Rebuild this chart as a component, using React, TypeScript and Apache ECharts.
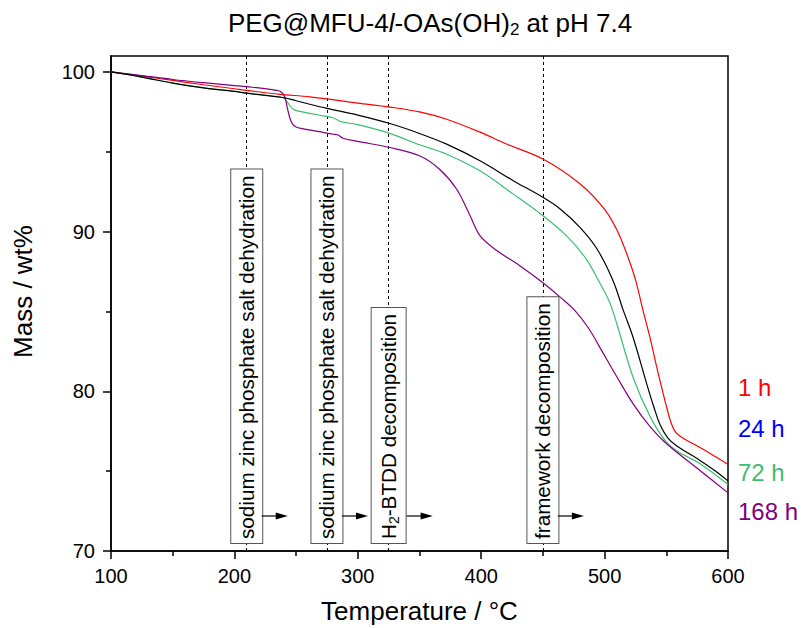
import React, { useEffect, useRef } from "react";
import * as echarts from "echarts";

// ---------- data ----------
const temp1h = [100, 125, 150, 175, 200, 210, 237, 261, 300, 326, 350, 372, 400, 420, 450, 480, 500, 510, 518, 525, 531, 537, 542, 547, 551, 554, 558, 565, 577, 590, 600];
const mass1h = [100, 99.74, 99.47, 99.2, 98.95, 98.85, 98.6, 98.44, 98.05, 97.8, 97.5, 97.04, 96.2, 95.5, 94.55, 93.0, 91.4, 90.1, 88.6, 87.0, 85.1, 83.3, 81.6, 80.0, 78.8, 78.0, 77.4, 77.0, 76.5, 75.9, 75.42];

const temp24h = [100, 125, 150, 175, 200, 210, 239, 250, 261, 275, 300, 326, 350, 372, 399, 426, 450, 464, 480, 494, 507, 515, 523, 534, 540, 545, 551, 558, 577, 590, 600];
const mass24h = [100, 99.68, 99.3, 99.0, 98.78, 98.67, 98.4, 98.2, 97.98, 97.72, 97.3, 96.77, 96.15, 95.48, 94.44, 93.19, 92.15, 91.42, 90.27, 88.9, 86.9, 85.1, 83.4, 80.5, 79.0, 77.9, 77.1, 76.6, 75.69, 75.0, 74.39];

const temp72h = [100, 125, 150, 175, 200, 210, 239, 243, 248, 255, 272, 280, 286, 300, 326, 350, 372, 399, 426, 450, 469, 485, 496, 504, 510, 523, 537, 550, 560, 577, 600];
const mass72h = [100, 99.68, 99.3, 99.0, 98.78, 98.67, 98.4, 98.1, 97.65, 97.5, 97.25, 97.13, 96.9, 96.7, 96.15, 95.44, 94.85, 93.81, 92.35, 91.0, 89.75, 88.3, 86.8, 85.6, 84.2, 80.9, 78.4, 76.83, 76.2, 75.48, 74.17];

const temp168h = [100, 125, 150, 175, 200, 210, 234, 238, 241, 243, 245, 247, 250, 255, 272, 280, 284, 288, 300, 326, 350, 366, 380, 391, 399, 412, 431, 450, 464, 476, 487, 496, 510, 523, 537, 550, 577, 600];
const mass168h = [100, 99.77, 99.53, 99.33, 99.15, 99.08, 98.85, 98.75, 98.4, 97.7, 97.1, 96.75, 96.55, 96.45, 96.22, 96.1, 96.05, 95.85, 95.65, 95.27, 94.75, 93.92, 92.67, 91.0, 89.75, 88.85, 87.88, 86.8, 85.9, 85.05, 83.95, 82.77, 80.9, 79.23, 77.77, 76.73, 75.06, 73.64];

const seriesNames = ["1 h", "24 h", "72 h", "168 h"];
const lineColors = ["#FF0000", "#000000", "#3DBD6F", "#800080"];
const labelColors = ["#FF0000", "#0000FF", "#3DBD6F", "#800080"];
const labelMass = [80.25, 77.7, 74.9, 72.45];

const xTicks = [100, 200, 300, 400, 500, 600];
const yTicks = [70, 80, 90, 100];
const yMinorTicks = [75, 85, 95];

const eventTemps = [210, 275, 325, 450];
const eventLabels = [
  "sodium zinc phosphate salt dehydration",
  "sodium zinc phosphate salt dehydration",
  "{a|H}{b|2}{a|-BTDD decomposition}",
  "framework decomposition",
];

const FONT = '"Liberation Sans", Arial, sans-serif';

export default function App() {
  const ref = useRef<HTMLDivElement>(null);
  useEffect(() => {
    const chart = echarts.init(ref.current!, null, { renderer: "svg" });
    const temps = [temp1h, temp24h, temp72h, temp168h];
    const masses = [mass1h, mass24h, mass72h, mass168h];

    const series: any[] = seriesNames.map((name, i) => ({
      name,
      type: "line",
      data: temps[i].map((t, j) => [t, masses[i][j]]),
      showSymbol: false,
      smooth: 0.35,
      lineStyle: { color: lineColors[i], width: 1.2 },
      itemStyle: { color: lineColors[i] },
      z: 3 + (i === 1 ? 2 : 0),
    }));
    series[0].markLine = {
      silent: true,
      symbol: ["none", "none"],
      label: { show: false },
      lineStyle: { type: [3, 3], color: "#000", width: 1 },
      data: eventTemps.map((t) => ({ xAxis: t })),
      z: 1,
    };

    const axisLineStyle = { color: "#000", width: 1.5 };
    chart.setOption({
      animation: false,
      textStyle: { fontFamily: FONT },
      title: {
        text: "{n|PEG@MFU-4}{i|l}{n|-OAs(OH)}{s|2}{n| at pH 7.4}",
        left: 425,
        top: 3,
        textAlign: "center",
        textStyle: {
          fontSize: 26,
          fontWeight: "normal",
          color: "#000",
          fontFamily: FONT,
          rich: {
            n: { fontSize: 26, fontFamily: FONT, color: "#000", lineHeight: 30 },
            i: { fontSize: 26, fontFamily: FONT, fontStyle: "italic", color: "#000", lineHeight: 30 },
            s: { fontSize: 17, fontFamily: FONT, color: "#000", lineHeight: 15, verticalAlign: "bottom" },
          },
        },
      },
      grid: {
        left: 111,
        right: 75,
        top: 56,
        bottom: 77,
        outerBoundsMode: "none",
        containLabel: false,
        show: true,
        borderColor: "#000",
        borderWidth: 1.5,
        backgroundColor: "transparent",
      },
      xAxis: {
        type: "value",
        min: 100,
        max: 600,
        interval: 100,
        name: "Temperature / °C",
        nameLocation: "middle",
        nameGap: 47,
        nameTextStyle: { fontSize: 26, color: "#000", fontFamily: FONT },
        axisLine: { lineStyle: axisLineStyle },
        axisTick: { inside: false, length: 8, lineStyle: axisLineStyle },
        minorTick: { show: true, splitNumber: 2, length: 5, lineStyle: axisLineStyle },
        axisLabel: { fontSize: 20, color: "#000", margin: 15, fontFamily: FONT, customValues: xTicks },
        splitLine: { show: false },
      },
      yAxis: [
        {
          type: "value",
          min: 70,
          max: 101,
          name: "Mass / wt%",
          nameLocation: "middle",
          nameGap: 75,
          nameTextStyle: { fontSize: 26, color: "#000", fontFamily: FONT, padding: [0, 0, 0, 24] },
          axisLine: { lineStyle: axisLineStyle },
          axisTick: { inside: false, length: 8, lineStyle: axisLineStyle, customValues: yTicks },
          axisLabel: { fontSize: 20, color: "#000", margin: 16, fontFamily: FONT, customValues: yTicks },
          splitLine: { show: false },
        },
        {
          type: "value",
          min: 70,
          max: 101,
          position: "left",
          axisLine: { show: false },
          axisTick: { show: true, inside: false, length: 5, lineStyle: axisLineStyle, customValues: yMinorTicks },
          axisLabel: { show: false },
          splitLine: { show: false },
        },
      ],
      series,
    });

    const px = (t: number, m: number) => chart.convertToPixel({ xAxisIndex: 0, yAxisIndex: 0 }, [t, m]) as number[];
    const graphics: any[] = [];
    const y70 = px(100, 70)[1];
    eventTemps.forEach((t, i) => {
      const x = px(t, 70)[0];
      const isRich = eventLabels[i].startsWith("{");
      const half = isRich ? 18 : 15;
      graphics.push({
        type: "text",
        x,
        y: y70 - 8,
        rotation: Math.PI / 2,
        z: 100,
        style: {
          text: eventLabels[i],
          fontSize: 20.7,
          fontFamily: FONT,
          fill: "#000",
          align: "left",
          verticalAlign: "middle",
          backgroundColor: "#fff",
          borderColor: "#555",
          borderWidth: 1,
          padding: [5, 6, 5, 4],
          rich: isRich
            ? {
                a: { fontSize: 20.7, fontFamily: FONT, fill: "#000", lineHeight: 24 },
                b: { fontSize: 14, fontFamily: FONT, fill: "#000", lineHeight: 12, verticalAlign: "bottom" },
              }
            : undefined,
        },
      });
      const ay = y70 - 35;
      const x0 = x + half;
      const x1 = x + half + 26;
      graphics.push({
        type: "line",
        z: 100,
        shape: { x1: x0, y1: ay, x2: x1 - 10, y2: ay },
        style: { stroke: "#000", lineWidth: 1.2 },
      });
      graphics.push({
        type: "polygon",
        z: 100,
        shape: { points: [[x1, ay], [x1 - 12, ay - 3.5], [x1 - 12, ay + 3.5]] },
        style: { fill: "#000" },
      });
    });

    seriesNames.forEach((name, i) => {
      const p = px(600, labelMass[i]);
      graphics.push({
        type: "text",
        x: p[0] + 10,
        y: p[1],
        z: 100,
        style: {
          text: name,
          fontSize: 24,
          fontFamily: FONT,
          fill: labelColors[i],
          align: "left",
          verticalAlign: "middle",
        },
      });
    });

    chart.setOption({ graphic: graphics });
    return () => chart.dispose();
  }, []);

  return (
    <div
      ref={ref}
      style={{ position: "fixed", left: 0, top: 0, width: 803, height: 628, background: "#fff" }}
    />
  );
}
